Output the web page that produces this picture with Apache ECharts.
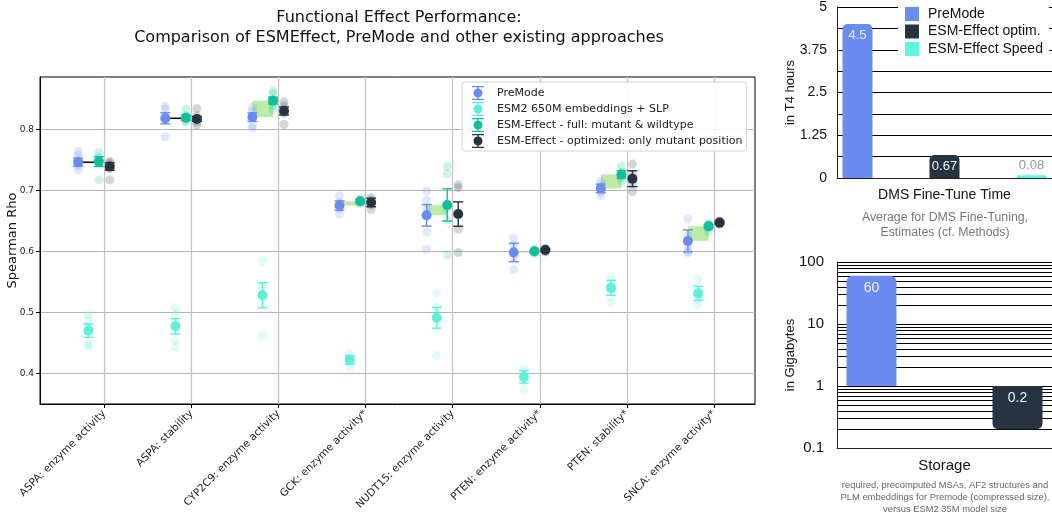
<!DOCTYPE html>
<html>
<head>
<meta charset="utf-8">
<script src="https://cdn.jsdelivr.net/npm/echarts@6/dist/echarts.min.js"></script>
<style>
  html, body { margin: 0; padding: 0; background: #fff; }
  #chart { width: 1052px; height: 516px; }
</style>
</head>
<body>
<div id="chart"></div>
<script>
// ---- Functional effect benchmark (Spearman rho per assay) ----
const categories = [
  'ASPA: enzyme activity', 'ASPA: stability', 'CYP2C9: enzyme activity',
  'GCK: enzyme activity*', 'NUDT15: enzyme activity', 'PTEN: enzyme activity*',
  'PTEN: stability*', 'SNCA: enzyme activity*'
];
const rhoTicks = [0.4, 0.5, 0.6, 0.7, 0.8];

const premodeMean = [0.746, 0.818, 0.820, 0.675, 0.659, 0.598, 0.703, 0.617];
const premodeErr  = [0.0066, 0.009, 0.007, 0.0077, 0.0177, 0.015, 0.007, 0.018];
const premodeRuns = [
  [0.764, 0.758, 0.751, 0.741, 0.733],
  [0.838, 0.833, 0.822, 0.815, 0.788],
  [0.836, 0.830, 0.820, 0.807, 0.802],
  [0.691, 0.680, 0.675, 0.670, 0.661],
  [0.699, 0.684, 0.669, 0.631, 0.603],
  [0.621, 0.610, 0.600, 0.590, 0.570],
  [0.715, 0.708, 0.703, 0.697, 0.691],
  [0.653, 0.625, 0.610, 0.600, 0.598]
];

const slpMean = [0.470, 0.477, 0.528, 0.422, 0.491, 0.394, 0.540, 0.531];
const slpErr  = [0.011, 0.0125, 0.0205, 0.007, 0.017, 0.010, 0.0123, 0.0115];
const slpRuns = [
  [0.496, 0.486, 0.475, 0.448, 0.444],
  [0.508, 0.497, 0.483, 0.454, 0.443],
  [0.585, 0.541, 0.530, 0.520, 0.462],
  [0.432, 0.425, 0.422, 0.420, 0.409],
  [0.532, 0.509, 0.495, 0.490, 0.429],
  [0.408, 0.400, 0.393, 0.390, 0.374],
  [0.558, 0.545, 0.540, 0.535, 0.516],
  [0.554, 0.535, 0.530, 0.522, 0.512]
];

const fullMean = [0.747, 0.819, 0.847, 0.682, 0.676, 0.600, 0.726, 0.641];
const fullErr  = [0.008, 0.004, 0.0055, 0.003, 0.0265, 0.002, 0.006, 0.0025];
const fullRuns = [
  [0.762, 0.755, 0.750, 0.748, 0.717],
  [0.833, 0.822, 0.818, 0.815, 0.812],
  [0.863, 0.858, 0.845, 0.838, 0.832],
  [0.686, 0.684, 0.682, 0.680, 0.678],
  [0.739, 0.727, 0.670, 0.651, 0.594],
  [0.604, 0.601, 0.600, 0.598, 0.597],
  [0.740, 0.730, 0.725, 0.720, 0.715],
  [0.646, 0.644, 0.641, 0.638, 0.632]
];

const optimMean = [0.739, 0.817, 0.830, 0.680, 0.661, 0.602, 0.719, 0.647];
const optimErr  = [0.006, 0.004, 0.0066, 0.007, 0.020, 0.002, 0.013, 0.002];
const optimRuns = [
  [0.747, 0.745, 0.741, 0.735, 0.717],
  [0.834, 0.822, 0.817, 0.812, 0.807],
  [0.845, 0.838, 0.833, 0.826, 0.808],
  [0.688, 0.684, 0.680, 0.676, 0.669],
  [0.709, 0.704, 0.660, 0.636, 0.598],
  [0.605, 0.603, 0.602, 0.600, 0.599],
  [0.743, 0.725, 0.718, 0.712, 0.698],
  [0.650, 0.648, 0.647, 0.645, 0.644]
];

// ---- Cost comparison ----
const timeNames  = ['PreMode', 'ESM-Effect optim.', 'ESM-Effect Speed'];
const timeHours  = [4.5, 0.67, 0.08];
const timeTicks  = [0, 1.25, 2.5, 3.75, 5];
const storageNames = ['PreMode', 'ESM-Effect optim.'];
const storageGB    = [60, 0.2];
const storageGridValues = [0.2, 0.3, 0.4, 0.5, 0.6, 0.7, 0.8, 0.9,
                           2, 3, 4, 5, 6, 7, 8, 9,
                           20, 30, 40, 50, 60, 70, 80, 90];

// ---- styling ----
const C_PRE = '#6a8bf0', C_SLP = '#5ef0d8', C_FULL = '#12bf9c', C_OPT = '#263340', C_SPEED = '#5ff5e1';
const SANS = '"DejaVu Sans", sans-serif';
const HELV = '"Liberation Sans", Arial, sans-serif';

const methods = [
  { name: 'PreMode', color: C_PRE, dx: -0.30, mean: premodeMean, err: premodeErr, runs: premodeRuns, errOpacity: 0.85 },
  { name: 'ESM2 650M embeddings + SLP', color: C_SLP, dx: -0.183, mean: slpMean, err: slpErr, runs: slpRuns, errOpacity: 0.9 },
  { name: 'ESM-Effect - full: mutant & wildtype', color: C_FULL, dx: -0.063, mean: fullMean, err: fullErr, runs: fullRuns, errOpacity: 1 },
  { name: 'ESM-Effect - optimized: only mutant position', color: C_OPT, dx: 0.063, mean: optimMean, err: optimErr, runs: optimRuns, errOpacity: 1 }
];

const errIcon = 'path://M0,0H12V1.3H0Z M5.35,0H6.65V14H5.35Z M0,12.7H12V14H0Z M6,2.5A4.5,4.5 0 1 1 5.99,2.5Z';

function errorBarItem(params, api) {
  const x = api.value(0);
  const lo = api.coord([x, api.value(1)]);
  const hi = api.coord([x, api.value(2)]);
  const half = 5;
  const style = { stroke: api.visual('color'), lineWidth: 1.4, opacity: api.visual('opacity') };
  return {
    type: 'group',
    children: [
      { type: 'line', shape: { x1: lo[0], y1: lo[1], x2: hi[0], y2: hi[1] }, style },
      { type: 'line', shape: { x1: lo[0] - half, y1: lo[1], x2: lo[0] + half, y2: lo[1] }, style },
      { type: 'line', shape: { x1: hi[0] - half, y1: hi[1], x2: hi[0] + half, y2: hi[1] }, style }
    ]
  };
}

// gain of the full ESM-Effect model over PreMode: shaded box, or a flat line when they tie
function gainItem(params, api) {
  const i = api.value(0);
  const pre = api.value(1), full = api.value(2);
  const a = api.coord([i + methods[0].dx, pre]);
  const b = api.coord([i + methods[2].dx, full]);
  if (Math.abs(full - pre) < 0.0015) {
    return { type: 'line', shape: { x1: a[0], y1: a[1], x2: b[0], y2: a[1] },
             style: { stroke: '#000', lineWidth: 1.5 } };
  }
  return {
    type: 'rect',
    shape: { x: a[0], y: Math.min(a[1], b[1]), width: b[0] - a[0], height: Math.abs(b[1] - a[1]) },
    style: { fill: 'rgba(160,228,130,0.7)' }
  };
}

const series = [];

series.push({
  type: 'custom', name: 'gain', xAxisIndex: 0, yAxisIndex: 0, z: 1, silent: true,
  renderItem: gainItem,
  data: categories.map((_, i) => [i, premodeMean[i], fullMean[i]])
});

methods.forEach((m) => {
  const runPts = [];
  m.runs.forEach((vals, i) => vals.forEach((v) => runPts.push([i + m.dx, v])));
  series.push({
    type: 'scatter', name: m.name + ' runs', xAxisIndex: 0, yAxisIndex: 0, z: 2, silent: true,
    symbolSize: 9, itemStyle: { color: m.color, opacity: 0.2 }, data: runPts
  });
});
methods.forEach((m) => {
  series.push({
    type: 'custom', name: m.name + ' error', xAxisIndex: 0, yAxisIndex: 0, z: 3, silent: true,
    itemStyle: { color: m.color, opacity: m.errOpacity },
    renderItem: errorBarItem,
    encode: { x: 0, y: [1, 2] },
    data: m.mean.map((v, i) => [i + m.dx, v - m.err[i], v + m.err[i]])
  });
  series.push({
    type: 'scatter', name: m.name, xAxisIndex: 0, yAxisIndex: 0, z: 4,
    symbolSize: 10, itemStyle: { color: m.color, opacity: 1 },
    data: m.mean.map((v, i) => [i + m.dx, v])
  });
});

// fine-tune time bars
const timeColors = [C_PRE, C_OPT, C_SPEED];
const timeLabels = [
  { position: 'insideTop', distance: 5, color: '#e6ecff' },
  { position: 'insideTop', distance: 5, color: '#f2f2f2' },
  { position: 'top', distance: 3, color: '#8c9a9a' }
];
timeNames.forEach((n, k) => {
  series.push({
    type: 'bar', name: n, xAxisIndex: 1, yAxisIndex: 1, z: 3,
    barWidth: 30, barGap: '190%',
    itemStyle: { color: timeColors[k], borderRadius: [5, 5, 0, 0] },
    label: Object.assign({ show: true, fontFamily: HELV, fontSize: 13 }, timeLabels[k]),
    data: [timeHours[k]]
  });
});

// storage bars (log scale, drawn from 1)
series.push({
  type: 'custom', name: 'storage grid', xAxisIndex: 2, yAxisIndex: 2, z: 1, silent: true,
  renderItem: (params, api) => {
    const cs = params.coordSys;
    const y = Math.round(api.coord([0, api.value(1)])[1]) + 0.5;
    return { type: 'line', shape: { x1: cs.x, y1: y, x2: cs.x + cs.width, y2: y },
             style: { stroke: '#000', lineWidth: 1 } };
  },
  data: storageGridValues.map((v) => [0, v])
});
const storageColors = [C_PRE, C_OPT];
const storageRadius = [[6, 6, 0, 0], [0, 0, 6, 6]];
storageNames.forEach((n, k) => {
  series.push({
    type: 'bar', name: n, xAxisIndex: 2, yAxisIndex: 2, z: 3,
    barWidth: 50, barGap: '192%',
    itemStyle: { color: storageColors[k], borderRadius: storageRadius[k] },
    label: { show: true, position: 'insideTop', distance: 5, color: '#eef2ff', fontFamily: HELV, fontSize: 14 },
    data: [storageGB[k]]
  });
});

const option = {
  animation: false,
  backgroundColor: '#fff',
  grid: [
    { left: 40, top: 77, width: 715, height: 327, show: true, borderColor: '#000', borderWidth: 1,
      backgroundColor: 'transparent', containLabel: false, outerBoundsMode: 'none' },
    { left: 837, top: 7, width: 215, height: 171, containLabel: false, outerBoundsMode: 'none' },
    { left: 837, top: 262, width: 215, height: 186, containLabel: false, outerBoundsMode: 'none' }
  ],
  xAxis: [
    {
      gridIndex: 0, type: 'value', min: -0.738, max: 7.47,
      axisLine: { show: true, onZero: false, lineStyle: { color: '#000', width: 1 } },
      axisTick: { show: true, customValues: categories.map((_, i) => i), length: 4, lineStyle: { color: '#000' } },
      axisLabel: {
        customValues: categories.map((_, i) => i),
        formatter: (v) => categories[Math.round(v)] || '',
        rotate: 45, margin: 8, fontFamily: SANS, fontSize: 10.5, color: '#222'
      },
      splitLine: { show: true, lineStyle: { color: '#c4c4c4', width: 1.3 } }
    },
    {
      gridIndex: 1, type: 'category', data: ['DMS Fine-Tune Time'],
      name: 'DMS Fine-Tune Time', nameLocation: 'middle', nameGap: 10, nameMoveOverlap: false,
      nameTextStyle: { fontFamily: HELV, fontSize: 14, color: '#111', verticalAlign: 'top' },
      axisLine: { show: true, onZero: false, lineStyle: { color: '#222', width: 1 } },
      axisTick: { show: false }, axisLabel: { show: false }, splitLine: { show: false }
    },
    {
      gridIndex: 2, type: 'category', data: ['Storage'],
      name: 'Storage', nameLocation: 'middle', nameGap: 10, nameMoveOverlap: false,
      nameTextStyle: { fontFamily: HELV, fontSize: 15, color: '#111', verticalAlign: 'top' },
      axisLine: { show: true, onZero: false, lineStyle: { color: '#222', width: 1 } },
      axisTick: { show: false }, axisLabel: { show: false }, splitLine: { show: false }
    }
  ],
  yAxis: [
    {
      gridIndex: 0, type: 'value', min: 0.3497, max: 0.8857,
      name: 'Spearman Rho', nameLocation: 'middle', nameGap: 21, nameMoveOverlap: false,
      nameTextStyle: { fontFamily: SANS, fontSize: 13, color: '#111' },
      axisLine: { show: true, onZero: false, lineStyle: { color: '#000', width: 1 } },
      axisTick: { show: true, customValues: rhoTicks, length: 4, lineStyle: { color: '#000' } },
      axisLabel: { customValues: rhoTicks, formatter: (v) => v.toFixed(1), fontFamily: SANS, fontSize: 9, color: '#222', margin: 6 },
      splitLine: { show: true, lineStyle: { color: '#b4b4b4', width: 1 } }
    },
    {
      gridIndex: 1, type: 'value', min: 0, max: 5, interval: 1.25,
      name: 'in T4 hours', nameLocation: 'middle', nameGap: 40, nameMoveOverlap: false,
      nameTextStyle: { fontFamily: HELV, fontSize: 13, color: '#111' },
      axisLine: { show: true, onZero: false, lineStyle: { color: '#222', width: 1 } },
      axisTick: { show: false },
      axisLabel: { customValues: timeTicks, fontFamily: HELV, fontSize: 14, color: '#111', margin: 10 },
      splitLine: { show: true, lineStyle: { color: '#000', width: 1 } },
      minorTick: { show: false, splitNumber: 2 },
      minorSplitLine: { show: true, lineStyle: { color: '#000', width: 1 } }
    },
    {
      gridIndex: 2, type: 'log', logBase: 10, min: 0.1, max: 100,
      name: 'in Gigabytes', nameLocation: 'middle', nameGap: 40, nameMoveOverlap: false,
      nameTextStyle: { fontFamily: HELV, fontSize: 13, color: '#111' },
      axisLine: { show: true, onZero: false, lineStyle: { color: '#222', width: 1 } },
      axisTick: { show: false },
      axisLabel: { fontFamily: HELV, fontSize: 15, color: '#111', margin: 13,
                   formatter: (v) => String(+v.toPrecision(3)) },
      splitLine: { show: true, lineStyle: { color: '#000', width: 1 } }
    }
  ],
  legend: [
    {
      left: 462, top: 82, orient: 'vertical', itemGap: 2, itemWidth: 12, itemHeight: 14,
      padding: [4, 4, 3, 10], borderColor: '#d4d4d4', borderWidth: 1, borderRadius: 3,
      backgroundColor: 'rgba(255,255,255,0.85)', selectedMode: false,
      textStyle: { fontFamily: SANS, fontSize: 11, lineHeight: 14, color: '#222', padding: [0, 0, 0, 8] },
      data: methods.map((m) => ({ name: m.name, icon: errIcon, itemStyle: { color: m.color } }))
    },
    {
      left: 898, top: 3, orient: 'vertical', itemGap: 3.5, itemWidth: 14, itemHeight: 14,
      padding: [4, 6, 4, 7], backgroundColor: '#fff', selectedMode: false,
      textStyle: { fontFamily: HELV, fontSize: 14, color: '#111', padding: [0, 0, 0, 4] },
      data: timeNames.map((n, k) => ({ name: n, icon: 'rect', itemStyle: { color: timeColors[k] } }))
    }
  ],
  graphic: [
    { type: 'text', x: 399, y: 8, silent: true,
      style: { text: 'Functional Effect Performance:\nComparison of ESMEffect, PreMode and other existing approaches',
               align: 'center', verticalAlign: 'top', fontFamily: SANS, fontSize: 16, lineHeight: 20, fill: '#111' } },
    { type: 'text', x: 945, y: 210, silent: true,
      style: { text: 'Average for DMS Fine-Tuning,\nEstimates (cf. Methods)',
               align: 'center', verticalAlign: 'top', fontFamily: HELV, fontSize: 12.3, lineHeight: 15, fill: '#777' } },
    { type: 'text', x: 945, y: 479, silent: true,
      style: { text: 'required, precomputed MSAs, AF2 structures and\nPLM embeddings for Premode (compressed size),\nversus ESM2 35M model size',
               align: 'center', verticalAlign: 'top', fontFamily: HELV, fontSize: 9.4, lineHeight: 12, fill: '#666' } }
  ],
  series
};

const chart = echarts.init(document.getElementById('chart'), null, { renderer: 'canvas' });
chart.setOption(option);
</script>
</body>
</html>
